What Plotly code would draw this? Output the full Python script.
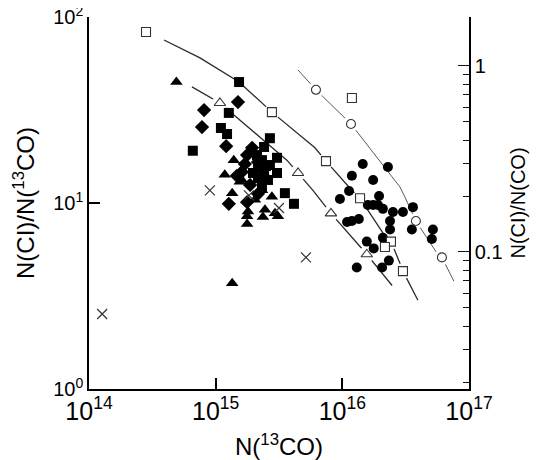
import plotly.graph_objects as go

# N(13CO) in units of 1e15 cm^-2, ratio N(CI)/N(13CO)
sq_f_x = [1.53, 1.27, 1.10, 1.23, 0.66, 2.68, 3.05, 1.97, 3.05, 3.52, 4.15, 2.32, 2.49, 2.16, 2.59, 2.32, 2.41, 2.12, 2.68, 2.16, 2.41]
sq_f_y = [44.7, 30.5, 25.3, 23.5, 19.1, 22.3, 17.5, 14.5, 14.5, 11.3, 9.9, 17.0, 15.8, 13.6, 13.3, 12.3, 20.0, 18.1, 16.0, 15.4, 14.2]

dia_x = [1.50, 0.81, 0.78, 1.21, 1.77, 1.70, 2.16, 1.47, 2.16, 1.77, 1.27, 1.87, 1.61, 1.94]
dia_y = [34.9, 31.6, 25.6, 20.2, 18.1, 16.2, 16.6, 14.0, 11.2, 10.1, 9.9, 12.5, 14.7, 19.8]

tri_f_x = [0.49, 1.39, 1.18, 1.55, 1.35, 2.78, 1.77, 1.77, 3.10, 2.36, 1.35, 1.61, 1.80, 2.45, 2.94, 2.32, 2.04]
tri_f_y = [44.7, 17.0, 14.2, 13.0, 11.3, 10.8, 8.5, 7.7, 8.5, 8.4, 3.7, 13.3, 9.0, 9.2, 8.8, 11.7, 10.4]

circ_f_x = [14.5, 22.9, 11.9, 17.5, 11.3, 9.57, 19.5, 15.9, 17.5, 19.1, 20.9, 25.1, 30.1, 36.1,
            10.9, 11.9, 13.5, 23.8, 23.8, 35.4, 51.9, 50.9, 15.6, 17.7, 20.9, 23.3, 20.6, 13.0]
circ_f_y = [16.2, 15.6, 14.0, 13.3, 11.6, 10.5, 10.9, 9.75, 9.75, 9.75, 9.3, 8.95, 8.95, 9.5,
            7.9, 8.0, 8.2, 8.0, 7.2, 7.2, 7.2, 6.4, 6.2, 5.7, 6.5, 4.9, 4.5, 4.5]

cross_x = [0.127, 0.90, 1.83, 3.16, 5.16]
cross_y = [2.53, 11.7, 11.0, 9.4, 5.1]

sq_o_x = [0.282, 2.78, 11.9, 7.43, 13.8, 24.2, 21.7, 30.1]
sq_o_y = [83.0, 30.8, 36.7, 16.8, 10.6, 6.2, 5.8, 4.3]

tri_o_x = [1.08, 4.47, 8.13, 15.6]
tri_o_y = [34.5, 14.5, 8.8, 5.3]

circ_o_x = [6.19, 11.7, 38.1, 61.1]
circ_o_y = [40.6, 26.6, 8.0, 5.1]

# model curves
curve_sq_x = [0.391, 0.752, 1.53, 2.78, 6.08, 7.43, 11.5, 13.8, 20.9, 24.2, 28.5, 30.1, 39.5]
curve_sq_y = [75.2, 60.3, 44.7, 30.8, 19.8, 16.8, 12.0, 10.6, 6.9, 6.2, 4.75, 4.3, 3.0]
curve_tri_x = [0.650, 1.08, 3.65, 4.47, 5.86, 8.13, 14.5, 15.6, 24.7]
curve_tri_y = [42.1, 34.5, 17.0, 14.5, 11.7, 8.8, 5.6, 5.3, 3.6]
curve_circ_x = [4.47, 6.19, 11.7, 28.5, 31.1, 38.1, 55.6, 61.1, 76.0]
curve_circ_y = [51.9, 40.6, 26.6, 12.2, 10.8, 8.0, 5.4, 5.1, 3.8]

# tick labels
y_tick_vals = [1, 10, 100]
y_tick_text = ["10<sup>0</sup>", "10<sup>1</sup>", "10<sup>2</sup>"]
y2_tick_vals = [0.1, 1]
y2_tick_text = ["0.1", "1"]

ISO_RATIO = 54.5  # N(CO)/N(13CO) used for right-hand axis

def sc(v):
    return [a * 1e15 for a in v]

FONT = "Liberation Sans, Arial, Helvetica, sans-serif"
BLK = "black"
LINE = "#333333"

fig = go.Figure()
for cx, cy, col, w in [(curve_sq_x, curve_sq_y, "#2a2a2a", 1.3),
                       (curve_tri_x, curve_tri_y, "#2a2a2a", 1.3),
                       (curve_circ_x, curve_circ_y, "#5a5a5a", 1.0)]:
    fig.add_trace(go.Scatter(x=sc(cx), y=cy, mode="lines", line=dict(color=col, width=w),
                             showlegend=False, hoverinfo="skip"))

# white halos under the open symbols (gaps in the model curves)
fig.add_trace(go.Scatter(x=sc(sq_o_x + tri_o_x + circ_o_x), y=sq_o_y + tri_o_y + circ_o_y,
                         mode="markers", marker=dict(symbol="circle", size=16, color="white"),
                         showlegend=False, hoverinfo="skip"))

fig.add_trace(go.Scatter(x=sc(sq_f_x), y=sq_f_y, mode="markers",
                         marker=dict(symbol="square", size=10, color=BLK), showlegend=False))
fig.add_trace(go.Scatter(x=sc(dia_x), y=dia_y, mode="markers",
                         marker=dict(symbol="diamond", size=11, color=BLK), showlegend=False))
fig.add_trace(go.Scatter(x=sc(tri_f_x), y=tri_f_y, mode="markers",
                         marker=dict(symbol="triangle-up", size=11, color=BLK), showlegend=False))
fig.add_trace(go.Scatter(x=sc(circ_f_x), y=circ_f_y, mode="markers",
                         marker=dict(symbol="circle", size=10, color=BLK), showlegend=False))
fig.add_trace(go.Scatter(x=sc(cross_x), y=cross_y, mode="markers",
                         marker=dict(symbol="x-thin", size=10, color=BLK,
                                     line=dict(color=LINE, width=1.2)), showlegend=False))
fig.add_trace(go.Scatter(x=sc(sq_o_x), y=sq_o_y, mode="markers",
                         marker=dict(symbol="square", size=9, color="white",
                                     line=dict(color=LINE, width=1.1)), showlegend=False))
fig.add_trace(go.Scatter(x=sc(tri_o_x), y=tri_o_y, mode="markers",
                         marker=dict(symbol="triangle-up", size=10, color="white",
                                     line=dict(color=LINE, width=1.1)), showlegend=False))
fig.add_trace(go.Scatter(x=sc(circ_o_x), y=circ_o_y, mode="markers",
                         marker=dict(symbol="circle", size=9, color="white",
                                     line=dict(color=LINE, width=1.1)), showlegend=False))
# carrier for the right-hand axis N(CI)/N(CO)
fig.add_trace(go.Scatter(x=[1e15], y=[1], yaxis="y2", mode="markers",
                         marker=dict(size=1, color="rgba(0,0,0,0)"), showlegend=False, hoverinfo="skip"))

minor_y2 = [m * 10 ** e for e in range(-2, 0) for m in range(2, 10)]

axis_common = dict(showline=True, linecolor=BLK, linewidth=1.5, showgrid=False, zeroline=False,
                   automargin=False, ticklabeloverflow="allow",
                   tickfont=dict(family=FONT, size=20, color=BLK))

# page body has an 8px offset, so the figure is drawn 8px smaller on each side
fig.update_layout(
    width=531, height=452,
    margin=dict(l=81, r=70, t=9, b=71),
    paper_bgcolor="white", plot_bgcolor="white",
    font=dict(family=FONT, color=BLK),
    xaxis=dict(type="log", range=[14, 17], dtick=1, exponentformat="power",
               ticks="inside", ticklen=11, tickwidth=2, tickcolor="black",
               title=dict(text="N(<sup>13</sup>CO)", font=dict(family=FONT, size=24, color=BLK), standoff=18),
               **axis_common),
    yaxis=dict(type="log", range=[0, 2], tickmode="array", tickvals=y_tick_vals, ticktext=y_tick_text,
               ticks="inside", ticklen=11, tickwidth=2, tickcolor="black",
               title=dict(text="N(CI)/N(<sup>13</sup>CO)", font=dict(family=FONT, size=24, color=BLK), standoff=12),
               **axis_common),
    yaxis2=dict(type="log", overlaying="y", side="right", anchor="x",
                range=[-1.7366, 0.2634], tickmode="array", tickvals=y2_tick_vals, ticktext=y2_tick_text,
                ticks="inside", ticklen=11, tickwidth=1.3, tickcolor="#111111",
                minor=dict(ticks="inside", ticklen=6, tickwidth=1.1, tickcolor="#111111",
                           tickvals=minor_y2, showgrid=False),
                title=dict(text="N(CI)/N(CO)", font=dict(family=FONT, size=20, color=BLK), standoff=9),
                **axis_common),
)

fig.write_html("out.html")
